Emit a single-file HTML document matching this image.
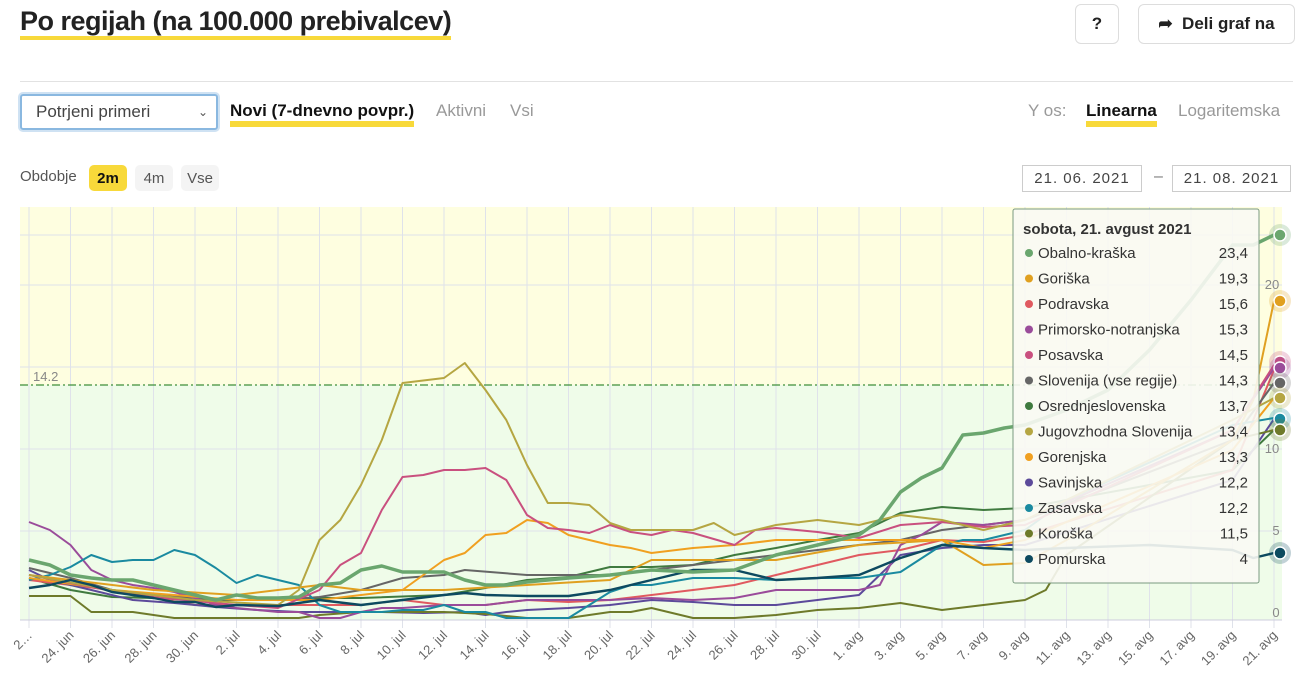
<!DOCTYPE html>
<html><head><meta charset="utf-8">
<style>
body{margin:0;width:1305px;height:693px;background:#fff;font-family:"Liberation Sans",sans-serif;position:relative;overflow:hidden;color:#222}
.abs{position:absolute}
h1{position:absolute;left:20px;top:6px;margin:0;font-size:27px;font-weight:bold;color:#222;letter-spacing:-0.5px;border-bottom:4px solid #f8d93a;line-height:30px;padding-bottom:0}
.btn{position:absolute;border:1px solid #ddd;border-radius:6px;background:#fff;font-weight:bold;font-size:17px;display:flex;align-items:center;justify-content:center}
.sel{position:absolute;left:20px;top:94px;width:198px;height:36px;border:2px solid #8ab8e0;border-radius:3px;box-shadow:0 0 0 2px #cfe2f3;font-size:17px;color:#444;display:flex;align-items:center;padding-left:14px;box-sizing:border-box}
.tab{position:absolute;font-size:17px;color:#999}
.act{color:#111;font-weight:bold;border-bottom:6px solid #f8d93a;line-height:20px}
.pill{position:absolute;top:165px;height:26px;border-radius:5px;background:#f4f4f4;font-size:15px;color:#555;display:flex;align-items:center;justify-content:center}
.date{position:absolute;top:165px;height:25px;border:1px solid #ccc;font-size:15px;color:#444;display:flex;align-items:center;justify-content:center;letter-spacing:1px}
</style></head><body>
<h1>Po regijah (na 100.000 prebivalcev)</h1>
<div class="btn" style="left:1075px;top:4px;width:42px;height:38px">?</div>
<div class="btn" style="left:1138px;top:4px;width:155px;height:38px">&#10150;&nbsp;&nbsp;Deli graf na</div>
<div class="abs" style="left:20px;top:81px;width:1273px;height:1px;background:#e2e2e2"></div>
<div class="sel">Potrjeni primeri<span style="position:absolute;right:8px;font-size:12px;color:#555">&#8964;</span></div>
<div class="tab act" style="left:230px;top:101px">Novi (7-dnevno povpr.)</div>
<div class="tab" style="left:436px;top:101px">Aktivni</div>
<div class="tab" style="left:510px;top:101px">Vsi</div>
<div class="tab" style="left:1028px;top:101px">Y os:</div>
<div class="tab act" style="left:1086px;top:101px">Linearna</div>
<div class="tab" style="left:1178px;top:101px">Logaritemska</div>
<div class="abs" style="left:20px;top:168px;font-size:15px;color:#555">Obdobje</div>
<div class="pill" style="left:89px;width:38px;background:#f8d93a;color:#111;font-weight:bold">2m</div>
<div class="pill" style="left:135px;width:38px">4m</div>
<div class="pill" style="left:181px;width:38px">Vse</div>
<div class="date" style="left:1022px;width:118px">21. 06. 2021</div>
<div class="abs" style="left:1154px;top:168px;color:#777">–</div>
<div class="date" style="left:1172px;width:117px">21. 08. 2021</div>
<svg class="abs" style="left:0;top:0" width="1305" height="693" id="s">
<rect x="20" y="207" width="1262" height="178" fill="#fefee0"/>
<rect x="20" y="385" width="1262" height="235" fill="#effce9"/>
<g id="grid" stroke="#dfe2ea" stroke-width="1"></g>
<line x1="20" y1="385" x2="1282" y2="385" stroke="#3f8f3a" stroke-width="1.2" stroke-dasharray="8,3,2,3"/>
<text x="33" y="381" font-size="13" fill="#888">14.2</text>
<line x1="20" y1="620" x2="1282" y2="620" stroke="#ccd" stroke-width="1"/>
<g font-size="13" fill="#888" text-anchor="middle">
<text x="1272" y="289">20</text><text x="1272" y="453">10</text><text x="1276" y="535">5</text><text x="1276" y="617">0</text></g>
<g id="lines" fill="none" stroke-width="2.2" stroke-linejoin="round"></g>
<g id="labels" font-size="13" fill="#666"></g>
<rect x="1013" y="209" width="246" height="374" rx="2" fill="#fafaf4" fill-opacity="0.9" stroke="#7a9a80" stroke-width="1"/>
<g id="tt" font-size="15" fill="#333"></g>
<g id="mk"></g>
</svg>
<script>
var X=function(d){return 29+20.75*d};
var S=[
["#3f7a3f",2,"0:578,2:590,4:597,6:598,8:600,10:600,14:598,16:598,20:595,22:588,24:580,26:577,28:567,30:567,32:565,34:555,36:548,38:540,40:533,42:513,44:507,46:510,48:508,50:500,58:470,60:430"],
["#e05a60",2,"0:580,4:590,8:605,12:605,16:605,18:600,20:605,22:605,24:600,26:602,28:600,30:595,32:590,34:585,36:575,38:565,40:555,42:550,44:540,46:542,48:535,58:470,60:370"],
["#5c4a9a",2,"0:570,1:580,3:590,5:600,7:603,9:607,11:610,13:612,15:612,17:612,19:613,21:612,22:615,23:612,24:610,26:608,28:605,30:600,32:602,34:605,36:605,38:600,40:595,42:555,44:548,46:545,48:545,58:480,60:419"],
["#6e7a2a",2,"0:596,2:596,3:612,5:612,7:618,13:618,14:615,16:612,20:612,22:614,24:618,26:618,28:612,29:612,30:608,32:618,34:618,36:615,38:610,40:608,42:603,44:610,46:605,48:600,49:590,50:555,58:440,60:430"],
["#666666",2,"0:568,2:578,4:590,6:595,8:598,10:600,12:600,14:597,16:590,18:578,20:575,21:570,24:575,28:575,30:570,32:565,34:560,36:555,38:550,40:545,42:540,44:530,46:525,48:520,58:440,60:383"],
["#9a4c9a",2,"0:522,1:530,2:545,3:570,4:580,5:585,6:588,7:592,8:598,9:605,10:608,11:610,12:612,13:612,14:618,15:618,16:612,17:608,18:608,20:605,22:605,24:600,26:600,28:600,30:598,32:600,34:598,36:590,40:590,41:585,42:545,43:535,44:522,46:525,48:520,58:430,60:368"],
["#1a8aa0",2,"0:580,1:575,2:567,3:555,4:562,5:560,6:560,7:550,8:555,9:568,10:583,11:575,12:580,13:585,14:605,15:612,17:612,18:610,19:610,20:605,21:612,22:612,23:618,26:618,27:605,28:592,29:585,30:585,32:578,34:578,36:580,38:578,40:578,42:572,44:545,45:540,46:540,48:530,50:500,58:425,60:418"],
["#e0a020",2,"0:575,6:590,10:595,14:585,16:590,20:590,24:585,28:580,30:560,32:560,36:560,40:545,44:540,46:565,48:563,50:540,58:440,59:400,60:301"],
["#f0a020",2,"0:578,4:590,10:600,14:600,16:595,18:590,19:575,20:560,21:553,22:535,23:533,24:520,25:523,26:535,27:540,28:545,29:548,30:553,32:548,34:545,36:540,40:540,44:540,46:548,48:540,58:450,60:398"],
["#c9507f",2,"0:575,5:595,10:605,12:608,14:590,15:565,16:553,17:510,18:477,19:475,20:470,21:470,22:468,23:480,24:515,25:528,26:530,27:533,28:525,29:532,30:535,31:530,32:533,34:545,35:530,36:528,38:532,40:538,42:525,44:522,46:527,48:525,58:430,60:365"],
["#b5a642",2,"0:575,4:590,8:600,12:605,13:590,14:540,15:520,16:485,17:440,18:383,20:378,21:363,22:390,23:420,24:465,25:503,26:503,27:505,28:523,29:530,30:530,32:530,33:523,34:535,36:525,38:520,40:525,42:515,44:520,46:530,48:520,58:420,60:398"],
["#0d4a60",2.4,"0:588,1:585,2:580,3:585,4:592,5:595,6:598,7:602,8:602,9:607,10:605,12:606,14:600,16:605,18:600,20:595,21:593,22:595,24:596,26:596,28:590,29:585,30:580,32:570,34:570,36:580,38:578,40:575,42:558,44:545,46:548,48:550,50:548,54:545,58:550,59:558,60:553"],
["#6aa66e",3.5,"0:560,1:565,2:575,3:578,4:580,5:580,6:585,7:590,8:595,9:600,10:595,11:598,12:598,13:597,14:585,15:583,16:570,17:566,18:572,20:572,21:580,22:585,23:585,24:582,26:578,28:575,30:570,32:572,34:570,36:555,38:545,40:535,41:520,42:492,43:478,44:468,45:435,46:433,47:428,48:425,50:410,52:390,54:350,56:300,58:245,59:245,60:235"]];
var ns="http://www.w3.org/2000/svg";
function el(t,a,p){var e=document.createElementNS(ns,t);for(var k in a)e.setAttribute(k,a[k]);p.appendChild(e);return e}
var g=document.getElementById("lines");
S.forEach(function(s){var pts=s[2].split(",").map(function(p){var q=p.split(":");return X(+q[0]).toFixed(1)+","+q[1]}).join(" ");el("polyline",{points:pts,stroke:s[0],"stroke-width":s[1]},g)});
var gr=document.getElementById("grid"),lb=document.getElementById("labels");
[203,285,367,449,531].forEach(function(y){if(y>207)el("line",{x1:20,x2:1282,y1:y,y2:y},gr)});
el("line",{x1:20,x2:1282,y1:235,y2:235},gr);
var m=["jun","jul","avg"],dd=22,mi=0,dim=[30,31,31];
for(var i=0;i<=30;i++){var x=X(2*i);el("line",{x1:x,x2:x,y1:207,y2:628},gr);
var t=i==0?"2…":dd+". "+m[mi];var tx=el("text",{x:x+4,y:636,"text-anchor":"end",transform:"rotate(-45 "+(x+4)+" 636)"},lb);tx.textContent=t;
dd+=2;if(dd>dim[mi]){dd-=dim[mi];mi++}}
var tt=document.getElementById("tt");
var T=[["#6aa66e","Obalno-kraška","23,4"],["#e0a020","Goriška","19,3"],["#e05a60","Podravska","15,6"],["#9a4c9a","Primorsko-notranjska","15,3"],["#c9507f","Posavska","14,5"],["#666","Slovenija (vse regije)","14,3"],["#3f7a3f","Osrednjeslovenska","13,7"],["#b5a642","Jugovzhodna Slovenija","13,4"],["#f0a020","Gorenjska","13,3"],["#5c4a9a","Savinjska","12,2"],["#1a8aa0","Zasavska","12,2"],["#6e7a2a","Koroška","11,5"],["#0d4a60","Pomurska","4"]];
var h=el("text",{x:1023,y:234,"font-weight":"bold"},tt);h.textContent="sobota, 21. avgust 2021";
T.forEach(function(r,i){var y=258+i*25.5;el("circle",{cx:1029,cy:y-5,r:4,fill:r[0]},tt);var a=el("text",{x:1038,y:y},tt);a.textContent=r[1];var b=el("text",{x:1248,y:y,"text-anchor":"end"},tt);b.textContent=r[2];});
var mk=document.getElementById("mk");
[["#6aa66e",235],["#e0a020",301],["#c9507f",362],["#9a4c9a",368],["#666",383],["#b5a642",398],["#1a8aa0",419],["#6e7a2a",430],["#0d4a60",553]].forEach(function(p){el("circle",{cx:1280,cy:p[1],r:11,fill:p[0],"fill-opacity":0.25},mk);el("circle",{cx:1280,cy:p[1],r:6,fill:p[0],stroke:"#fff","stroke-width":1.5},mk)});
</script>
</body></html>
